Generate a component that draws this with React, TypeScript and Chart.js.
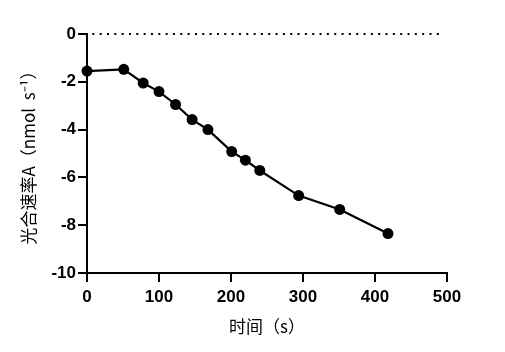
import React, { useEffect, useRef } from "react";
import { Chart, registerables } from "chart.js";

Chart.register(...registerables);

const timeS = [0, 51, 78, 100, 123, 146, 168, 201, 220, 240, 294, 351, 418];
const rateA = [-1.55, -1.48, -2.05, -2.41, -2.95, -3.58, -4.0, -4.92, -5.28, -5.71, -6.76, -7.34, -8.35];
const zeroLineX = [0, 492];
const zeroLineY = [0, 0];
const xTicks = [0, 100, 200, 300, 400, 500];
const yTicks = [0, -2, -4, -6, -8, -10];
const xTitle = "时间（s）";
const yTitle = "光合速率A（nmol  s⁻¹）";

export default function App() {
  const ref = useRef<HTMLCanvasElement | null>(null);

  useEffect(() => {
    if (!ref.current) return;
    const tickFont = { family: "Liberation Sans, Arial, Helvetica", size: 17, weight: "bold" as const };
    const titleFont = { family: "'Noto Sans CJK SC', sans-serif", size: 17 };
    const chart = new Chart(ref.current, {
      type: "line",
      data: {
        datasets: [
          {
            data: timeS.map((x, i) => ({ x, y: rateA[i] })),
            borderColor: "#000",
            backgroundColor: "#000",
            borderWidth: 2.2,
            pointRadius: 5.5,
            pointBackgroundColor: "#000",
            pointBorderWidth: 0,
            clip: false,
          },
          {
            data: zeroLineX.map((x, i) => ({ x, y: zeroLineY[i] })),
            borderColor: "#000",
            borderWidth: 2,
            borderDash: [2, 5.33],
            borderDashOffset: 2,
            pointRadius: 0,
            clip: false,
          },
        ],
      },
      options: {
        responsive: false,
        animation: false,
        plugins: { legend: { display: false }, tooltip: { enabled: false } },
        layout: { padding: { left: 0, right: 58, top: 34, bottom: 0 } },
        scales: {
          x: {
            type: "linear",
            min: 0,
            max: 500,
            afterBuildTicks: (s: any) => {
              s.ticks = xTicks.map((v) => ({ value: v }));
            },
            afterFit: (s: any) => {
              s.height = 79;
            },
            grid: {
              display: true,
              drawOnChartArea: false,
              drawTicks: true,
              tickLength: 9,
              color: "#000",
              lineWidth: 2,
            },
            border: { display: true, color: "#000", width: 2 },
            ticks: { color: "#000", font: tickFont, padding: 5, maxRotation: 0 },
            title: { display: true, text: xTitle, color: "#000", font: titleFont, padding: { top: 0, bottom: 15 } },
          },
          y: {
            type: "linear",
            min: -10,
            max: 0,
            afterBuildTicks: (s: any) => {
              s.ticks = yTicks.map((v) => ({ value: v }));
            },
            afterFit: (s: any) => {
              s.width = 87;
            },
            grid: {
              display: true,
              drawOnChartArea: false,
              drawTicks: true,
              tickLength: 9,
              color: "#000",
              lineWidth: 2,
            },
            border: { display: true, color: "#000", width: 2 },
            ticks: { color: "#000", font: tickFont, padding: 2 },
            title: { display: true, text: yTitle, color: "#000", font: titleFont, padding: { top: 18, bottom: 0 } },
          },
        },
      },
    });
    return () => chart.destroy();
  }, []);

  return (
    <div style={{ position: "fixed", left: 0, top: 0, width: 505, height: 352, background: "#fff" }}>
      <canvas ref={ref} width={505} height={352} />
    </div>
  );
}
